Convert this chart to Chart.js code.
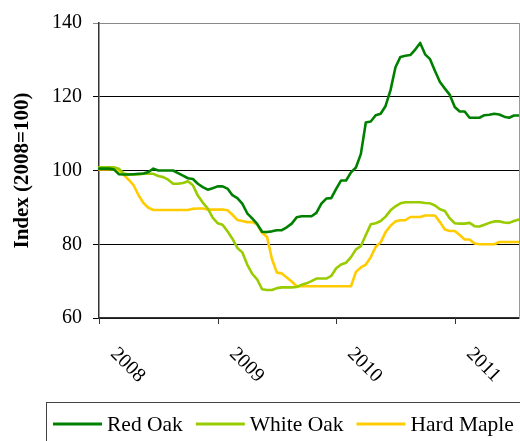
<!DOCTYPE html>
<html>
<head>
<meta charset="utf-8">
<script src="https://cdn.jsdelivr.net/npm/chart.js@4"></script>
<style>
  html, body { margin: 0; padding: 0; background: #fff; }
  canvas { display: block; }
</style>
</head>
<body>
<canvas id="myChart" width="520" height="441"></canvas>
<script>
// half-month periods, Jan 2008 .. Jul 2011
const yearTicks = ['2008', '2009', '2010', '2011'];
const periods = [];
yearTicks.forEach((yr) => {
  for (let m = 1; m <= 12; m++) {
    const mm = String(m).padStart(2, '0');
    periods.push(`${yr}-${mm}-01`, `${yr}-${mm}-15`);
  }
});
periods.length = 86;

const seriesNames = ['Red Oak', 'White Oak', 'Hard Maple'];
const seriesColors = ['#008000', '#99CC00', '#FFCC00'];

const redOak = [
  100.5, 100.5, 100.5, 100.3, 99.0, 98.9, 98.9, 99.0, 99.1, 99.2,
  99.6, 100.5, 100, 100, 100, 100, 99.3, 98.6, 97.9, 97.7,
  96.4, 95.5, 94.8, 95.2, 95.7, 95.7, 95.1, 93.3, 92.5, 91,
  88.4, 87, 85.5, 83.4, 83.3, 83.5, 83.8, 83.8, 84.6, 85.6,
  87.3, 87.6, 87.6, 87.6, 88.5, 91, 92.4, 92.5, 95, 97.3,
  97.3, 99.5, 100.8, 104.5, 113, 113.3, 115, 115.4, 117.5, 121.8,
  128, 130.8, 131.1, 131.3, 132.8, 134.6, 131.5, 130.2, 127, 124,
  122.2, 120.5, 117.2, 116, 116, 114.3, 114.3, 114.3, 115, 115.1,
  115.4, 115.2, 114.6, 114.3, 114.9, 114.9
];

const whiteOak = [
  100.9, 100.9, 100.9, 100.9, 100.5, 99.2, 98.9, 98.9, 98.9, 99.1,
  99.1, 99.1, 98.5, 98.2, 97.5, 96.4, 96.4, 96.6, 97.1, 96,
  93.2, 91.3, 89.7, 87.2, 85.7, 85.3, 83.5, 81.5, 79, 77.8,
  74.5, 72, 70.5, 67.8, 67.6, 67.6, 68.1, 68.3, 68.3, 68.3,
  68.4, 69, 69.4, 70, 70.7, 70.7, 70.7, 71.4, 73.5, 74.5,
  75, 76.5, 78.6, 79.5, 82.5, 85.4, 85.7, 86.3, 87.5, 89.2,
  90.3, 91.1, 91.4, 91.4, 91.4, 91.4, 91.2, 91.1, 90.5, 89.5,
  89, 87, 85.7, 85.6, 85.6, 85.8, 84.9, 84.8, 85.3, 85.8,
  86.2, 86.2, 85.9, 85.8, 86.3, 86.7
];

const hardMaple = [
  100.3, 100.3, 100.3, 100.3, 100, 98.8, 97.5, 96, 93.3, 91.2,
  89.9, 89.3, 89.3, 89.3, 89.3, 89.3, 89.3, 89.3, 89.3, 89.6,
  89.7, 89.7, 89.4, 89.4, 89.4, 89.4, 89.2, 88, 86.6, 86.3,
  86, 86, 85.4, 83.1, 82, 76, 72.3, 72.1, 71, 69.9,
  68.6, 68.6, 68.6, 68.6, 68.6, 68.6, 68.6, 68.6, 68.6, 68.6,
  68.6, 68.6, 72.5, 73.7, 74.5, 76.5, 79.3, 80.5, 83.3, 85,
  86.2, 86.5, 86.5, 87.4, 87.4, 87.4, 87.8, 87.8, 87.8, 86,
  84, 83.6, 83.6, 82.5, 81.3, 81.3, 80.2, 80, 80, 80,
  80, 80.6, 80.6, 80.6, 80.6, 80.6
];

const FONT = '"Liberation Serif", "DejaVu Serif", serif';

// year labels under the x axis, slanted downwards like the original
const yearLabels = {
  id: 'yearLabels',
  afterDraw(chart) {
    const ctx = chart.ctx;
    const xs = chart.scales.x;
    const bottom = chart.chartArea.bottom;
    ctx.save();
    ctx.strokeStyle = '#333';
    ctx.lineWidth = 1;
    ctx.fillStyle = '#000';
    ctx.font = `20px ${FONT}`;
    yearTicks.forEach((yr) => {
      const idx = periods.indexOf(`${yr}-01-01`);
      const px = Math.round(xs.getPixelForValue(idx)) + 0.5;
      ctx.beginPath();
      ctx.moveTo(px, bottom);
      ctx.lineTo(px, bottom + 6);
      ctx.stroke();
      ctx.save();
      ctx.translate(px + 14, bottom + 33);
      ctx.rotate(Math.PI / 4);
      ctx.textAlign = 'left';
      ctx.textBaseline = 'middle';
      ctx.fillText(yr, 0, 0);
      ctx.restore();
    });
    // right frame edge
    const ca = chart.chartArea;
    ctx.strokeStyle = '#999';
    ctx.beginPath();
    ctx.moveTo(ca.right + 0.5, ca.top);
    ctx.lineTo(ca.right + 0.5, ca.bottom);
    ctx.stroke();
    ctx.restore();
  }
};

// boxed legend at the bottom
const boxLegend = {
  id: 'boxLegend',
  afterDraw(chart) {
    const ctx = chart.ctx;
    ctx.save();
    ctx.strokeStyle = '#444';
    ctx.lineWidth = 1;
    ctx.strokeRect(46.5, 402.5, 500, 60);
    ctx.font = `21.5px ${FONT}`;
    ctx.textBaseline = 'middle';
    ctx.fillStyle = '#000';
    let x = 53;
    const y = 424;
    chart.data.datasets.forEach((ds) => {
      ctx.strokeStyle = ds.borderColor;
      ctx.lineWidth = 3;
      ctx.beginPath();
      ctx.moveTo(x, y);
      ctx.lineTo(x + 49, y);
      ctx.stroke();
      x += 54;
      ctx.fillText(ds.label, x, y + 1);
      x += ctx.measureText(ds.label).width + 13;
    });
    ctx.restore();
  }
};

function mainEvent() {
  const target = document.querySelector('#myChart');
  const seriesData = [redOak, whiteOak, hardMaple];

  const data = {
    labels: periods,
    datasets: seriesNames.map((name, i) => ({
      label: name,
      data: seriesData[i],
      borderColor: seriesColors[i],
      backgroundColor: seriesColors[i],
      borderWidth: 2.6,
      pointRadius: 0,
      tension: 0,
      borderJoinStyle: 'round',
      borderCapStyle: 'round'
    }))
  };

  const config = {
    type: 'line',
    data: data,
    options: {
      responsive: false,
      animation: false,
      devicePixelRatio: 1,
      layout: { padding: { top: 22, right: 1, left: 0, bottom: 0 } },
      plugins: {
        legend: { display: false },
        tooltip: { enabled: false }
      },
      scales: {
        x: {
          type: 'category',
          grid: { display: false },
          ticks: { display: false },
          border: { display: true, color: '#333', width: 1.5 },
          afterFit(scale) { scale.height = 123; }
        },
        y: {
          min: 60,
          max: 140,
          ticks: {
            stepSize: 20,
            color: '#000',
            padding: 11,
            font: { size: 20, family: FONT }
          },
          grid: {
            color: (c) => (c.tick && c.tick.value === 140 ? '#888' : '#000'),
            lineWidth: 1,
            tickLength: 6
          },
          border: { color: '#333', width: 1.5 },
          title: {
            display: true,
            text: 'Index (2008=100)',
            color: '#000',
            font: { size: 21, weight: 'bold', family: FONT },
            padding: { top: 10, bottom: 0 }
          },
          afterFit(scale) { scale.width = 99; }
        }
      }
    },
    plugins: [yearLabels, boxLegend]
  };

  return new Chart(target, config);
}

document.addEventListener('DOMContentLoaded', () => mainEvent());
</script>
</body>
</html>
